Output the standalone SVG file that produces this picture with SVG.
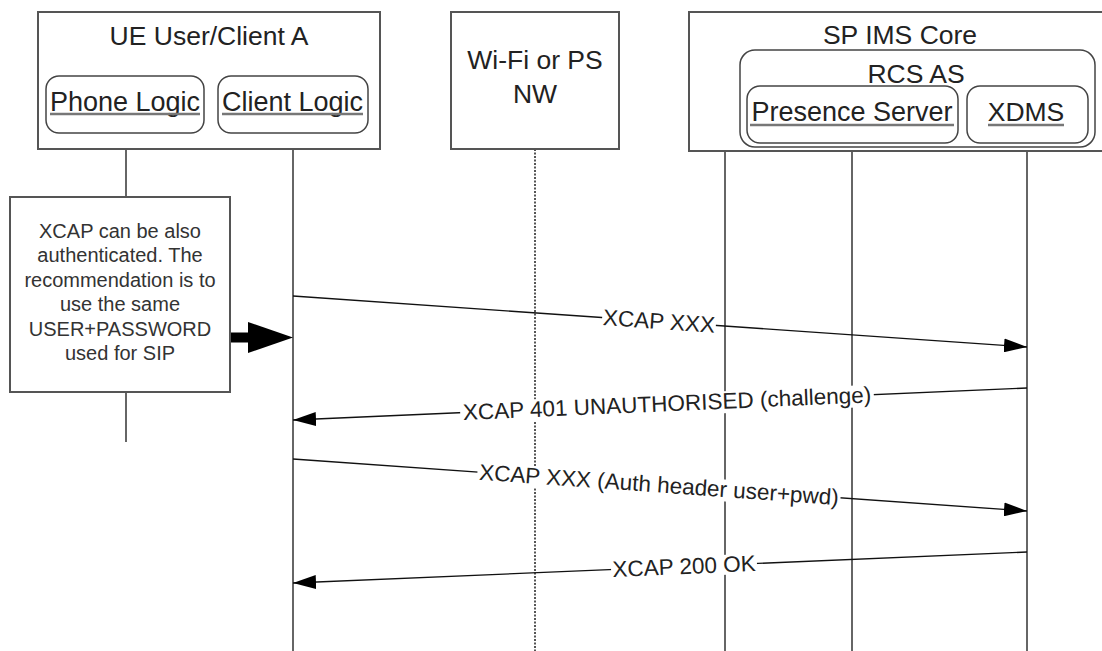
<svg xmlns="http://www.w3.org/2000/svg" width="1102" height="651" viewBox="0 0 1102 651">
<style>
  .box{fill:#fff;stroke:#555;stroke-width:2}
  .rbox{fill:#fff;stroke:#444;stroke-width:1.5}
  .t{font-family:"Liberation Sans",Arial,sans-serif;fill:#222;text-anchor:middle}
  .big{font-size:26.5px}
  .lbl{font-size:22.5px}
  .note{font-size:20px;fill:#333}
  .ul{stroke:#777;stroke-width:2.5}
  .life{stroke:#333;stroke-width:1.5;fill:none}
  .dot{stroke:#555;stroke-width:2;stroke-dasharray:2,1.5;fill:none}
  .msg{stroke:#111;stroke-width:1.4;fill:none}
  .bg{fill:#fff}
</style>
<defs>
  <marker id="ah" markerUnits="userSpaceOnUse" markerWidth="23" markerHeight="14" refX="23" refY="7" orient="auto">
    <path d="M0,0 L23,7 L0,14 z" fill="#000"/>
  </marker>
</defs>
<rect width="1102" height="651" fill="#fff"/>

<g id="connectors">
  <line class="life" x1="126" y1="133" x2="126" y2="197"/>
  <line class="life" x1="126" y1="392" x2="126" y2="442"/>
  <line class="life" x1="293" y1="133" x2="293" y2="651"/>
  <line class="dot" x1="535" y1="149" x2="535" y2="651"/>
  <line class="life" x1="725" y1="151" x2="725" y2="651"/>
  <line class="life" x1="852" y1="143" x2="852" y2="651"/>
  <line class="life" x1="1027" y1="143" x2="1027" y2="651"/>

  <g id="m1">
    <line class="msg" x1="293" y1="296" x2="1027" y2="347" marker-end="url(#ah)"/>
    <g transform="translate(659,321.4) rotate(3.975)">
      <rect class="bg" x="-57" y="-10" width="114" height="20"/>
      <text class="t lbl" x="0" y="7.5">XCAP XXX</text>
    </g>
  </g>
  <g id="m2">
    <line class="msg" x1="1027" y1="388" x2="293" y2="420" marker-end="url(#ah)"/>
    <g transform="translate(667,403.7) rotate(-2.496)">
      <rect class="bg" x="-207" y="-10" width="414" height="22"/>
      <text class="t lbl" x="0" y="7.5">XCAP 401 UNAUTHORISED (challenge)</text>
    </g>
  </g>
  <g id="m3">
    <line class="msg" x1="293" y1="459" x2="1027" y2="511" marker-end="url(#ah)"/>
    <g transform="translate(659,484.9) rotate(4.05)">
      <rect class="bg" x="-182" y="-10" width="364" height="22"/>
      <text class="t lbl" x="0" y="7.5">XCAP XXX (Auth header user+pwd)</text>
    </g>
  </g>
  <g id="m4">
    <line class="msg" x1="1027" y1="552" x2="293" y2="583" marker-end="url(#ah)"/>
    <g transform="translate(684,566.5) rotate(-2.418)">
      <rect class="bg" x="-73" y="-10" width="146" height="20"/>
      <text class="t lbl" x="0" y="7.5">XCAP 200 OK</text>
    </g>
  </g>
  <g id="note-arrow">
    <rect x="230" y="332.5" width="20" height="10" fill="#000"/>
    <path d="M248,322 L293,337.5 L248,353 z" fill="#000"/>
  </g>
</g>

<g id="ue">
  <rect class="box" x="38" y="12" width="342" height="137"/>
  <text class="t big" x="209" y="45">UE User/Client A</text>
</g>
<g id="phone-logic">
  <rect class="rbox" x="46" y="76" width="158" height="57" rx="13"/>
  <text class="t big" x="125" y="110.5" style="font-size:27px">Phone Logic</text>
  <line class="ul" x1="50" y1="114" x2="200" y2="114"/>
</g>
<g id="client-logic">
  <rect class="rbox" x="218" y="76" width="150" height="57" rx="13"/>
  <text class="t big" x="292.5" y="110.5" style="font-size:27px">Client Logic</text>
  <line class="ul" x1="222" y1="114" x2="363" y2="114"/>
</g>
<g id="wifi">
  <rect class="box" x="451" y="12" width="168" height="137"/>
  <text class="t big" x="535" y="69">Wi-Fi or PS</text>
  <text class="t big" x="535" y="103">NW</text>
</g>
<g id="sp-ims-core">
  <rect class="box" x="689" y="12" width="430" height="139"/>
  <text class="t big" x="900" y="44">SP IMS Core</text>
</g>
<g id="rcs-as">
  <rect class="rbox" x="740" y="50" width="355" height="97" rx="15"/>
  <text class="t big" x="916" y="83">RCS AS</text>
</g>
<g id="presence-server">
  <rect class="rbox" x="747" y="86" width="211" height="57" rx="13"/>
  <text class="t big" x="852" y="121" style="font-size:27px">Presence Server</text>
  <line class="ul" x1="750" y1="125" x2="954" y2="125"/>
</g>
<g id="xdms">
  <rect class="rbox" x="967" y="86" width="121" height="57" rx="13"/>
  <text class="t big" x="1026" y="121">XDMS</text>
  <line class="ul" x1="988" y1="125" x2="1064" y2="125"/>
</g>
<g id="note">
  <rect class="box" x="10" y="197" width="220" height="195"/>
  <text class="t note" x="120" y="238">XCAP can be also</text>
  <text class="t note" x="120" y="262.4">authenticated. The</text>
  <text class="t note" x="120" y="286.8">recommendation is to</text>
  <text class="t note" x="120" y="311.2">use the same</text>
  <text class="t note" x="120" y="335.6">USER+PASSWORD</text>
  <text class="t note" x="120" y="360">used for SIP</text>
</g>
</svg>
